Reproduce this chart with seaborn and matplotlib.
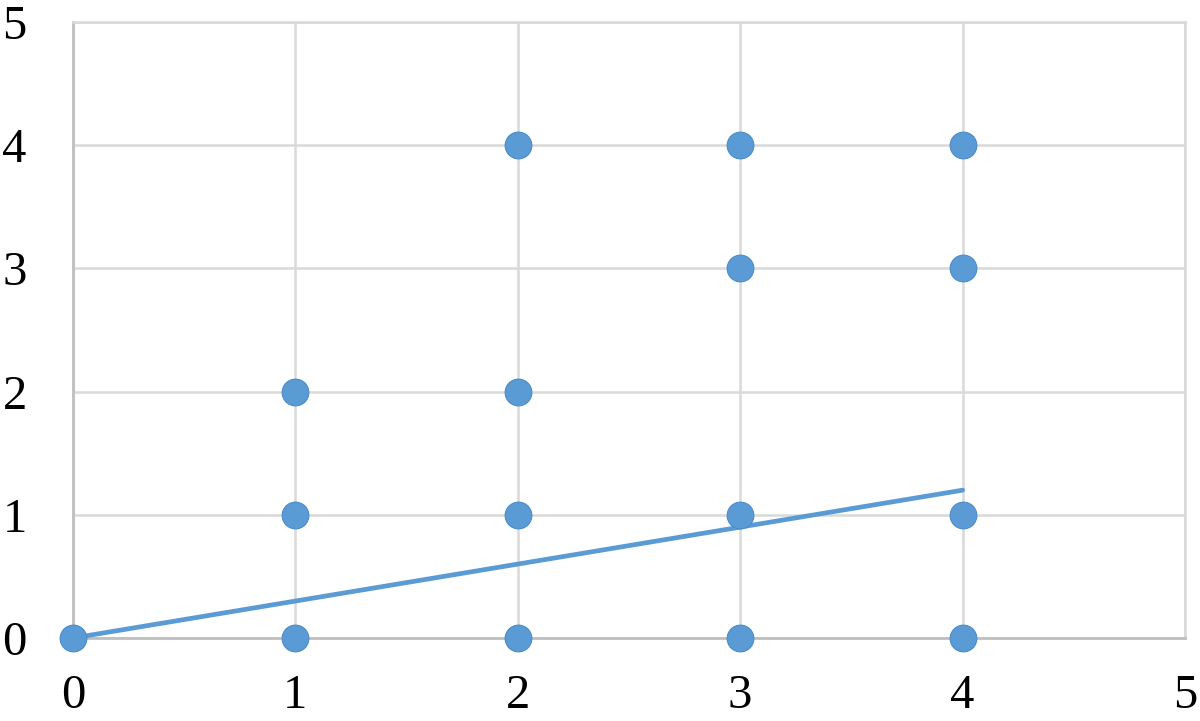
import numpy as np
import pandas as pd
import seaborn as sns
import matplotlib
matplotlib.use('Agg')
import matplotlib.pyplot as plt

# scatter points
x_pts = [0, 1, 1, 1, 2, 2, 2, 2, 3, 3, 3, 3, 4, 4, 4, 4]
y_pts = [0, 0, 1, 2, 0, 1, 2, 4, 0, 1, 3, 4, 0, 1, 3, 4]

# fitted line
line_x = [0, 4]
line_y = [0, 1.2]

ticks = [0, 1, 2, 3, 4, 5]

sns.set_style('white')
plt.rcParams['font.family'] = ['Liberation Serif', 'DejaVu Serif']

blue = '#5b9bd5'
grid = '#d9d9d9'

fig = plt.figure(figsize=(12, 7.21), dpi=100)
ax = fig.add_axes([0.0608, 0.1151, 0.9267, 0.8544])

df_pts = pd.DataFrame({'x': x_pts, 'y': y_pts})
df_line = pd.DataFrame({'x': line_x, 'y': line_y})

sns.lineplot(data=df_line, x='x', y='y', ax=ax, color=blue, linewidth=3.4, zorder=3)
sns.scatterplot(data=df_pts, x='x', y='y', ax=ax, color=blue, s=370,
                edgecolor='#4a8bc8', linewidth=0.8, zorder=4, clip_on=False)

ax.set_xlim(0, 5)
ax.set_ylim(0, 5)
ax.set_xticks(ticks)
ax.set_yticks(ticks)
ax.set_xlabel('')
ax.set_ylabel('')
ax.grid(True, color=grid, linewidth=1.8)
ax.set_axisbelow(True)
for side in ['top', 'right']:
    ax.spines[side].set_color(grid)
    ax.spines[side].set_linewidth(1.8)
for side in ['left', 'bottom']:
    ax.spines[side].set_color('#bfbfbf')
    ax.spines[side].set_linewidth(2)
ax.tick_params(axis='both', length=0, labelsize=35, colors='black')
ax.tick_params(axis='x', pad=26)
ax.tick_params(axis='y', pad=42)
for lab in ax.get_yticklabels():
    lab.set_horizontalalignment('center')

plt.savefig('out.png', dpi=100)
plt.close()
